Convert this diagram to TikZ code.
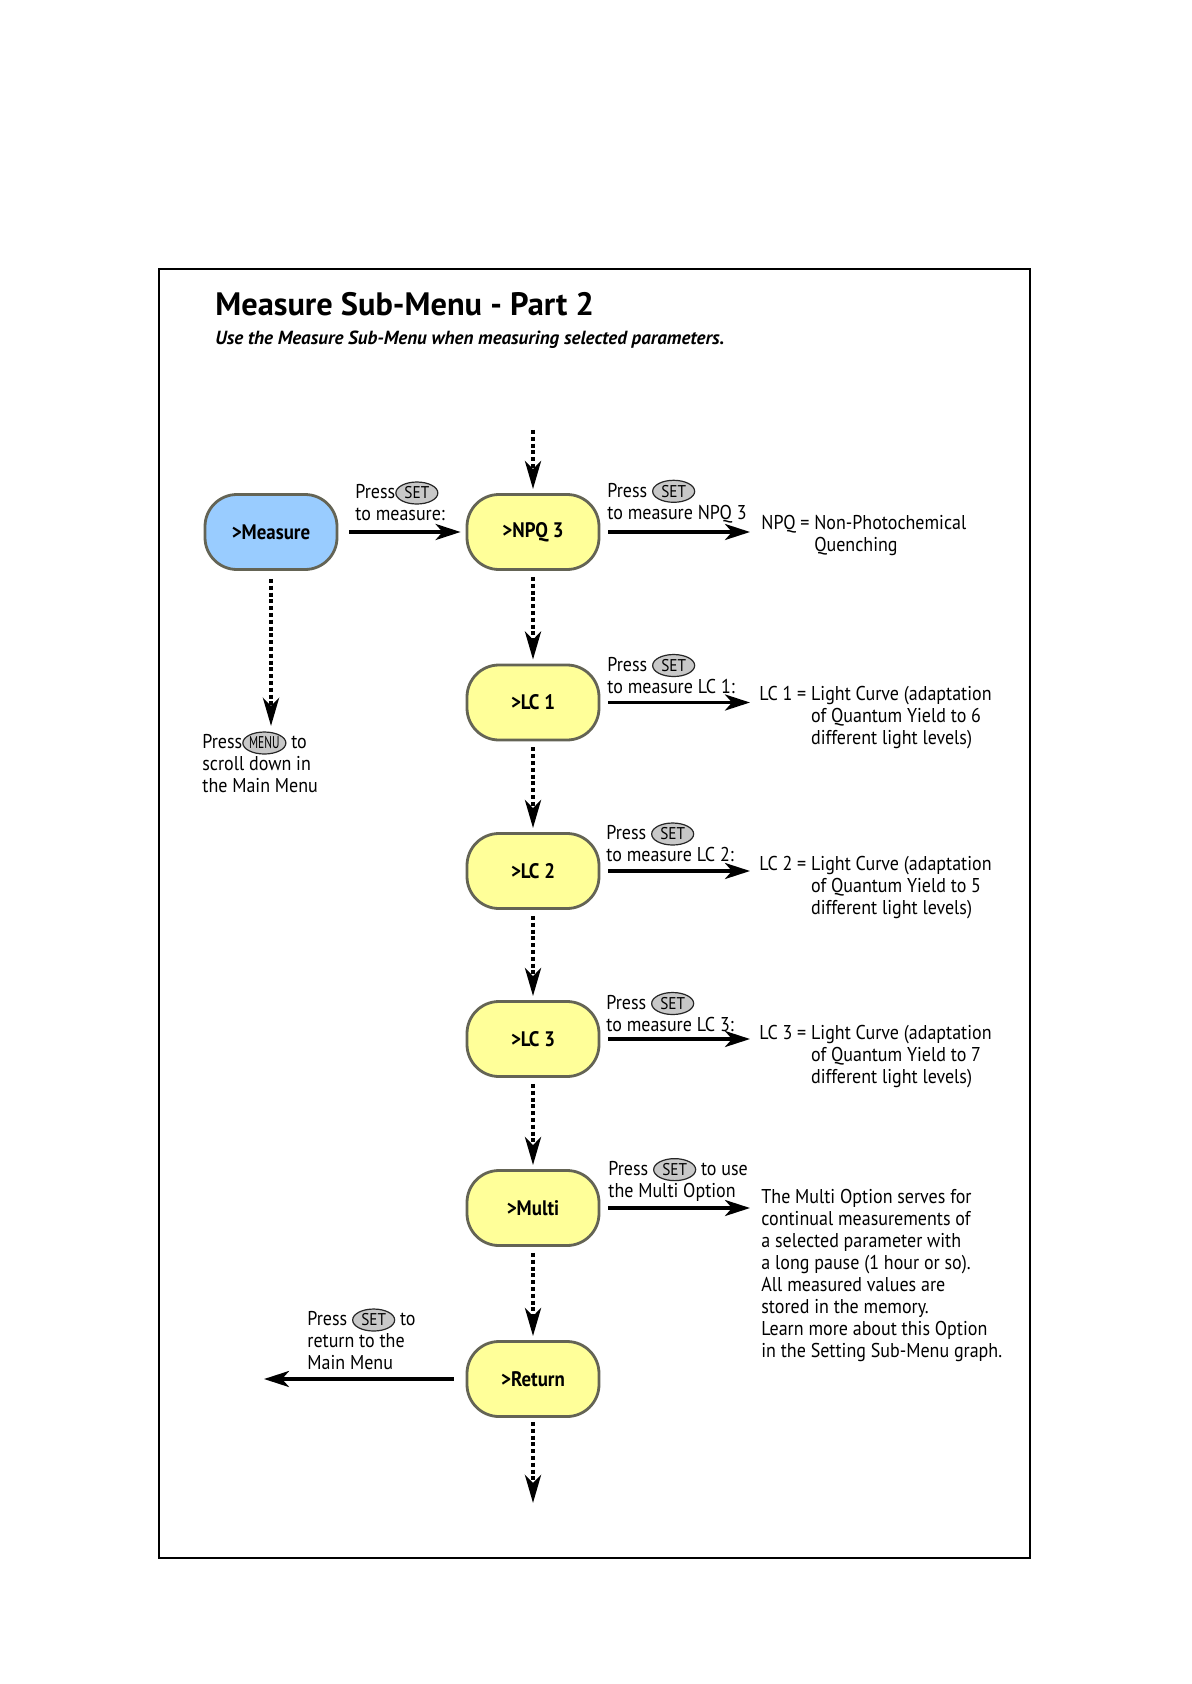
\documentclass[tikz,border=0pt]{standalone}
\usepackage{fontspec}
\setmainfont{PT Sans}[FakeStretch=0.9]
\newfontfamily\headfont{PT Sans}
\usetikzlibrary{arrows.meta,shapes.geometric}
\definecolor{measureblue}{RGB}{153,204,255}
\definecolor{itemyellow}{RGB}{255,255,153}
\definecolor{itemborder}{RGB}{100,100,85}
\definecolor{keygray}{RGB}{200,200,200}
\newcommand{\keybtn}[1]{\smash{\tikz[baseline=(k.base)]\node[ellipse,draw=black!85,line width=0.6pt,fill=keygray,inner sep=0pt,minimum width=21pt,minimum height=11pt,font=\fontsize{8.5}{8.5}\selectfont] (k) {#1};}}
\begin{document}
\begin{tikzpicture}[x=0.5pt,y=-0.5pt,
        menubox/.style={rectangle,rounded corners=16pt,draw=itemborder,line width=1.4pt,minimum width=66pt,minimum height=37.5pt,font=\bfseries\fontsize{10.5}{12}\selectfont},
        dotflow/.style={line width=2.2pt,dash pattern=on 2pt off 1.4pt,-{Stealth[length=14pt,width=8pt,inset=4pt]}},
        setflow/.style={line width=1.8pt,-{Stealth[length=12.5pt,width=8pt,inset=3.5pt]}},
        notetext/.style={align=left,anchor=west,inner sep=0pt,font=\fontsize{10}{11}\selectfont}]
        \fill[white] (0,0) rectangle (1191,1684);
        \useasboundingbox (0,0) rectangle (1191,1684);
        \draw[line width=0.7pt] (159,269) rectangle (1030,1558);
        \node[anchor=base west,inner sep=0pt,font=\headfont\bfseries\fontsize{16.2}{19}\selectfont] (title) at (215,316) {Measure Sub-Menu - Part 2};
        \node[anchor=base west,inner sep=0pt,font=\headfont\bfseries\itshape\fontsize{9.5}{11}\selectfont] (subtitle) at (215,344.5) {Use the Measure Sub-Menu when measuring selected parameters.};

        \node[menubox,fill=measureblue] (measure) at (271,532) {>Measure};
        \node[menubox,fill=itemyellow] (npq) at (533,532) {>NPQ 3};
        \node[menubox,fill=itemyellow] (lcone) at (533,702.5) {>LC 1};
        \node[menubox,fill=itemyellow] (lctwo) at (533,871) {>LC 2};
        \node[menubox,fill=itemyellow] (lcthree) at (533,1039) {>LC 3};
        \node[menubox,fill=itemyellow] (multi) at (533,1208) {>Multi};
        \node[menubox,fill=itemyellow] (ret) at (533,1379) {>Return};

        \coordinate (feed) at (533,430);
        \coordinate (menuexit) at (271,726);
        \coordinate (tail) at (533,1503);
        \coordinate (npqout) at (750,532);
        \coordinate (lconeout) at (750,702.5);
        \coordinate (lctwoout) at (750,871);
        \coordinate (lcthreeout) at (750,1039);
        \coordinate (multiout) at (750,1208);
        \coordinate (mainmenu) at (264,1379);

        \draw[dotflow,shorten >=2pt] (feed) -- (npq);
        \draw[dotflow,shorten <=4pt] (measure) -- (menuexit);
        \draw[dotflow,shorten <=3pt,shorten >=2pt] (npq) -- (lcone);
        \draw[dotflow,shorten <=3pt,shorten >=2pt] (lcone) -- (lctwo);
        \draw[dotflow,shorten <=3pt,shorten >=2pt] (lctwo) -- (lcthree);
        \draw[dotflow,shorten <=3pt,shorten >=2pt] (lcthree) -- (multi);
        \draw[dotflow,shorten <=3pt,shorten >=2pt] (multi) -- (ret);
        \draw[dotflow,shorten <=2pt] (ret) -- (tail);

        \draw[setflow,shorten <=5.5pt,shorten >=2.5pt] (measure) -- (npq);
        \draw[setflow,shorten <=4pt] (npq) -- (npqout);
        \draw[setflow,shorten <=4pt] (lcone) -- (lconeout);
        \draw[setflow,shorten <=4pt] (lctwo) -- (lctwoout);
        \draw[setflow,shorten <=4pt] (lcthree) -- (lcthreeout);
        \draw[setflow,shorten <=4pt] (multi) -- (multiout);
        \draw[setflow,shorten <=6pt] (ret) -- (mainmenu);

        \node[notetext] (measurepress) at (355,503) {Press\keybtn{SET}\\to measure:};
        \node[notetext] (npqpress) at (607,503) {Press \keybtn{SET}\\to measure NPQ 3};
        \node[notetext] (lconepress) at (607,675.5) {Press \keybtn{SET}\\to measure LC 1:};
        \node[notetext] (lctwopress) at (606,844) {Press \keybtn{SET}\\to measure LC 2:};
        \node[notetext] (lcthreepress) at (606,1013.5) {Press \keybtn{SET}\\to measure LC 3:};
        \node[notetext] (multipress) at (608,1181.5) {Press \keybtn{SET} to use\\the Multi Option};
        \node[notetext] (retpress) at (307,1341) {Press \keybtn{SET} to\\return to the\\Main Menu};
        \node[notetext] (menupress) at (202,764) {Press\keybtn{\scalebox{0.75}[1]{MENU}} to\\scroll down in\\the Main Menu};

        \node[notetext] (npqinfo) at (761,536) {\begin{tabular}{@{}l@{\ }l@{}}NPQ = &Non-Photochemical\\ &Quenching\end{tabular}};
        \node[notetext] (lconeinfo) at (759,718) {\begin{tabular}{@{}l@{\ }l@{}}LC 1 = &Light Curve (adaptation\\ &of Quantum Yield to 6\\ &different light levels)\end{tabular}};
        \node[notetext] (lctwoinfo) at (759,888) {\begin{tabular}{@{}l@{\ }l@{}}LC 2 = &Light Curve (adaptation\\ &of Quantum Yield to 5\\ &different light levels)\end{tabular}};
        \node[notetext] (lcthreeinfo) at (759,1057) {\begin{tabular}{@{}l@{\ }l@{}}LC 3 = &Light Curve (adaptation\\ &of Quantum Yield to 7\\ &different light levels)\end{tabular}};
        \node[notetext] (multiinfo) at (761,1275.5) {The Multi Option serves for\\continual measurements of\\a selected parameter with\\a long pause (1 hour or so).\\All measured values are\\stored in the memory.\\Learn more about this Option\\in the Setting Sub-Menu graph.};
    \end{tikzpicture}
\end{document}
